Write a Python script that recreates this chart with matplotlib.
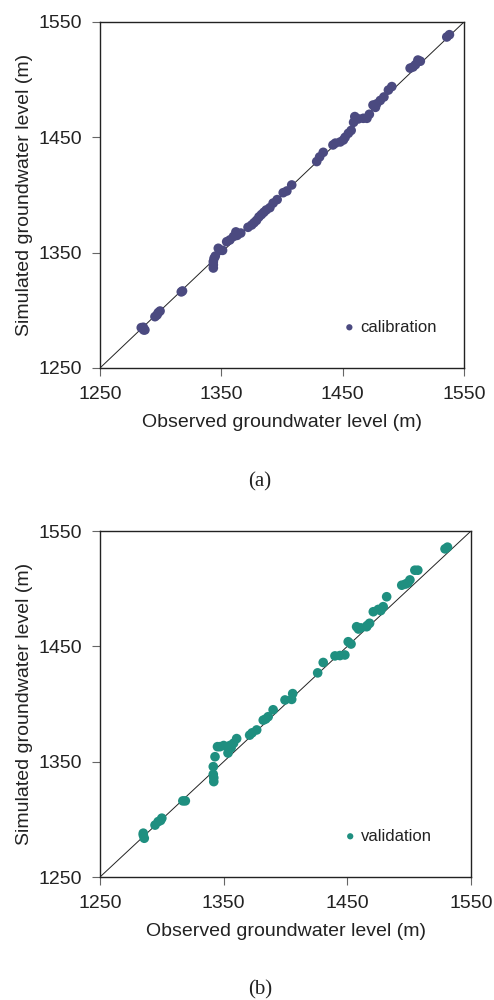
import numpy as np
import matplotlib
matplotlib.use("Agg")
import matplotlib.pyplot as plt

plt.rcParams['font.family'] = ['Liberation Sans', 'DejaVu Sans']

# ---- data ----
calib_obs = [1284, 1285.7, 1287, 1286, 1295.3, 1297, 1299.5, 1298, 1318, 1317, 1343.4, 1343.4,
             1343.4, 1344, 1345, 1347.5, 1349, 1351, 1354.4, 1357, 1360, 1362, 1363, 1366,
             1372, 1375, 1377, 1379, 1381, 1383, 1385, 1387, 1390, 1392.7, 1396, 1401, 1404,
             1408, 1428.6, 1431, 1434, 1442, 1444, 1448, 1450.6, 1452, 1454.7, 1457, 1459,
             1460, 1463, 1467, 1470, 1472, 1475, 1477, 1478, 1481, 1484, 1487.7, 1490.5,
             1505.6, 1508, 1510, 1512, 1514, 1535.8, 1538]
calib_sim = [1285, 1285.3, 1283, 1283, 1294.5, 1296, 1299.4, 1298, 1316.8, 1316, 1336.7, 1339.5,
             1342.2, 1345, 1347, 1353.8, 1352, 1352, 1359.5, 1361, 1364, 1368, 1365, 1367,
             1372, 1374, 1376, 1378, 1381, 1383, 1385, 1387, 1389, 1393, 1396, 1402, 1403.5,
             1408.7, 1429, 1433, 1437, 1443.4, 1445, 1446, 1447.7, 1450, 1453.5, 1456, 1463,
             1468, 1466, 1466.5, 1466.5, 1470, 1478, 1476, 1479, 1482, 1485, 1491, 1494,
             1510, 1511, 1513, 1517, 1516, 1537, 1539]

valid_obs = [1285, 1285.8, 1285, 1294.5, 1297, 1300, 1299, 1317, 1319, 1341.6, 1341.6, 1342,
             1342, 1343, 1345, 1347, 1350, 1353.5, 1356, 1360.5, 1358, 1355, 1371, 1373,
             1376.7, 1382, 1384, 1386, 1390, 1399.6, 1405, 1405.8, 1426, 1430.5, 1440, 1444,
             1448, 1450.7, 1453, 1457.5, 1459, 1461, 1465.6, 1468, 1466, 1471, 1475, 1477,
             1479, 1481.8, 1494, 1497, 1500.6, 1499, 1504.6, 1507, 1529, 1531]
valid_sim = [1286.4, 1283.6, 1288, 1295, 1298, 1301, 1299, 1316, 1316, 1345.7, 1339, 1332.7,
             1336, 1354.3, 1363, 1363, 1364, 1357.5, 1362, 1370, 1366, 1364, 1373, 1375,
             1377.5, 1386, 1387, 1389, 1395, 1403.5, 1404, 1409, 1427, 1436, 1441.7, 1442,
             1442.5, 1454, 1452, 1467, 1465, 1466, 1467, 1470, 1468, 1480, 1482, 1481,
             1484.4, 1493, 1503, 1504, 1507.6, 1505, 1516, 1516, 1534.5, 1536]

ticks = [1250, 1350, 1450, 1550]
lims = (1250, 1550)

fig = plt.figure(figsize=(4.94, 10.0), dpi=100)

panels = [
    ([100/494, 1 - 368/1000, 364/494, 346/1000], calib_obs, calib_sim, '#4b4a80',
     'calibration', 0.925, '(a)', 1 - 482/1000),
    ([100/494, 1 - 877/1000, 371/494, 346/1000], valid_obs, valid_sim, '#1f8f80',
     'validation', 0.895, '(b)', 1 - 990/1000),
]

for rect, obs, sim, col, lab, leg_x, cap, cap_y in panels:
    ax = fig.add_axes(rect)
    ax.plot(lims, lims, color='#222222', lw=0.7, zorder=1)
    ax.scatter(obs, sim, s=48, color=col, edgecolors='none', zorder=2, label=lab)
    ax.set_xlim(lims)
    ax.set_ylim(lims)
    ax.set_xticks(ticks)
    ax.set_yticks(ticks)
    ax.tick_params(direction='out', length=6, width=0.8, color='#666666',
                   labelsize=14, labelcolor='#222222', pad=7)
    for sp in ax.spines.values():
        sp.set_color('#222222')
        sp.set_linewidth(1.0)
    ax.set_xlabel('Observed groundwater level (m)', fontsize=14, color='#222222', labelpad=8)
    ax.set_ylabel('Simulated groundwater level (m)', fontsize=14, color='#222222', labelpad=4)
    ax.legend(loc='center right', bbox_to_anchor=(leg_x, 0.118), frameon=False, fontsize=12,
              handlelength=0.5, handletextpad=0.4, markerscale=0.65, borderaxespad=0,
              borderpad=0, labelcolor='#222222')
    fig.text(260/494, cap_y, cap, ha='center', va='center', fontsize=15,
             family=['Liberation Serif', 'DejaVu Serif'], color='#222222')

fig.savefig('out.png', dpi=100)
